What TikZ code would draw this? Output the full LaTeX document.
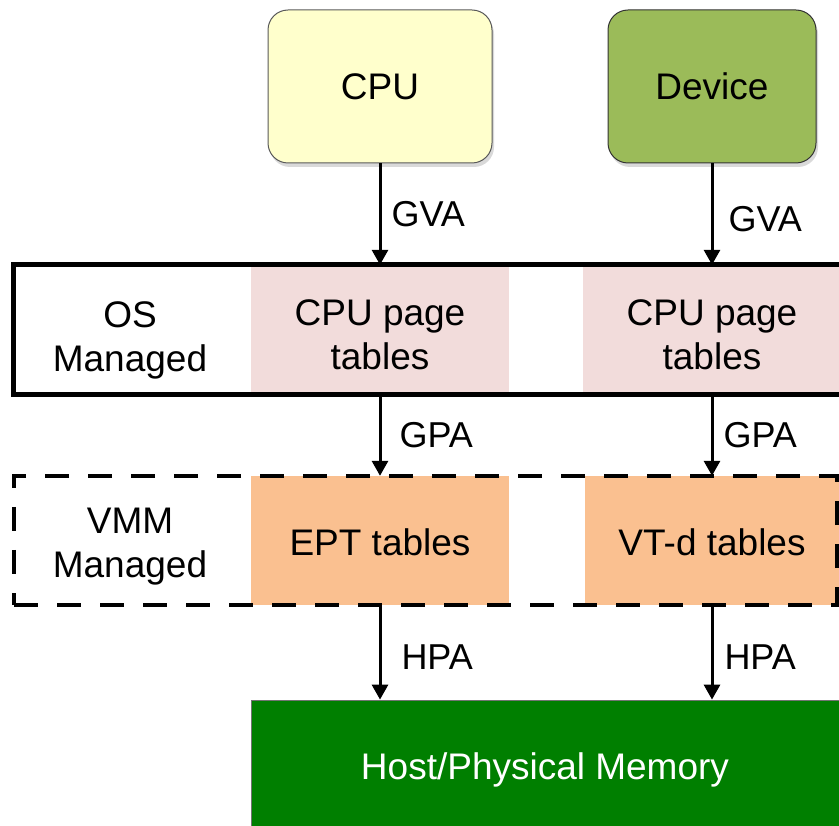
\documentclass[tikz,border=0pt]{standalone}
\usepackage{fontspec}
\setmainfont{Liberation Sans}
\usetikzlibrary{arrows.meta, positioning, shadows}

\definecolor{cpuyellow}{HTML}{FFFFCC}
\definecolor{devgreen}{HTML}{9BBB59}
\definecolor{ptpink}{HTML}{F2DCDB}
\definecolor{eptorange}{HTML}{FAC090}
\definecolor{memgreen}{HTML}{007F00}

\begin{document}
\begin{tikzpicture}[x=1pt, y=-1pt, >={Triangle[length=15pt, width=16pt]},
	font=\fontsize{37}{44}\selectfont,
	unit/.style={rounded corners=20pt, minimum height=153pt, inner sep=0pt, line width=1pt,
		drop shadow={opacity=0.3, shadow xshift=2pt, shadow yshift=-4pt}},
	cell/.style={minimum width=258pt, inner sep=0pt, align=center},
	flow/.style={->, line width=3pt},
	addr/.style={font=\fontsize{36}{43}\selectfont, inner sep=0pt}]
	
	\clip (0,0) rectangle (839,826);
	
	% ---------------------------------------------------------
	% Requesters
	% ---------------------------------------------------------
	\node[unit, minimum width=224pt, fill=cpuyellow, draw=black!65] (cpu) at (380,86.5) {CPU};
	\node[unit, minimum width=208pt, fill=devgreen, draw=black!80] (dev) at (712,86.5) {Device};
	
	% ---------------------------------------------------------
	% OS managed level (guest page tables)
	% ---------------------------------------------------------
	\node[cell, minimum height=130pt, text height=80pt, fill=ptpink] (cpupt) at (380,330) {CPU page\\tables};
	\node[cell, minimum height=130pt, text height=80pt, fill=ptpink] (devpt) at (712,330) {CPU page\\tables};
	\node[minimum width=832pt, minimum height=130pt, draw, line width=5pt] (osbox) at (429,330) {};
	\node[align=center, text height=80pt] (oslbl) at (130,335) {OS\\Managed};
	
	% ---------------------------------------------------------
	% VMM managed level (second-level tables)
	% ---------------------------------------------------------
	\node[cell, minimum height=129pt, text height=30pt, fill=eptorange] (ept) at (380,540.5) {EPT tables};
	\node[cell, minimum width=254pt, minimum height=129pt, text height=30pt, fill=eptorange] (vtd) at (712,540.5) {VT-d tables};
	\node[minimum width=823pt, minimum height=129pt, draw, line width=4.5pt,
		dash pattern=on 24pt off 19pt] (vmmbox) at (425.5,540.5) {};
	\node[align=center, text height=80pt] (vmmlbl) at (130,541) {VMM\\Managed};
	
	% ---------------------------------------------------------
	% Memory
	% ---------------------------------------------------------
	\node[minimum width=588pt, minimum height=130pt, inner sep=0pt, text height=37pt, fill=memgreen,
		draw=black!55, line width=0.8pt, text=white] (mem) at (545,765) {Host/Physical Memory};
	
	% Address flow
	\draw[flow] (cpu) -- node[addr, right=10pt] {GVA} (cpupt);
	\draw[flow] (dev) -- node[addr, right=15pt, pos=0.55] {GVA} (devpt);
	\draw[flow] (cpupt) -- node[addr, right=18pt] {GPA} (ept);
	\draw[flow] (devpt) -- node[addr, right=10pt] {GPA} (vtd);
	\draw[flow] (ept) -- node[addr, right=20pt, pos=0.55] {HPA} (ept |- mem.north);
	\draw[flow] (vtd) -- node[addr, right=11pt, pos=0.55] {HPA} (vtd |- mem.north);
	
\end{tikzpicture}
\end{document}
